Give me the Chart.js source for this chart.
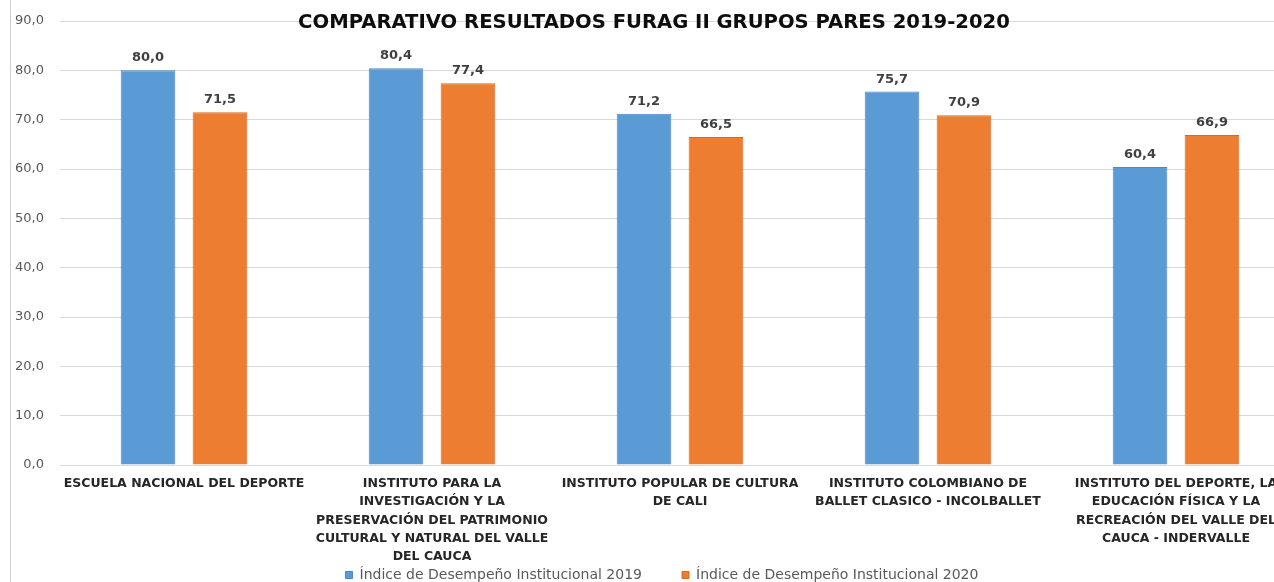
<!DOCTYPE html>
<html>
<head>
<meta charset="utf-8">
<script src="https://cdn.jsdelivr.net/npm/chart.js@4/dist/chart.umd.min.js"></script>
<style>
  body { margin: 0; background: #fff; overflow: hidden; }
  .chart-container { position: relative; width: 1300px; height: 582px; }
  .side-line { position: absolute; left: 10px; top: 0; width: 1px; height: 582px; background: #d0d0d0; }
</style>
</head>
<body>
<div class="chart-container">
  <div class="side-line"></div>
  <canvas id="furag-chart"></canvas>
</div>
<script>
const titleText = 'COMPARATIVO RESULTADOS FURAG II GRUPOS PARES 2019-2020';
const entidades = [
  'ESCUELA NACIONAL DEL DEPORTE',
  ['INSTITUTO PARA LA', 'INVESTIGACIÓN Y LA', 'PRESERVACIÓN DEL PATRIMONIO', 'CULTURAL Y NATURAL DEL VALLE', 'DEL CAUCA'],
  ['INSTITUTO POPULAR DE CULTURA', 'DE CALI'],
  ['INSTITUTO COLOMBIANO DE', 'BALLET CLASICO - INCOLBALLET'],
  ['INSTITUTO DEL DEPORTE, LA', 'EDUCACIÓN FÍSICA Y LA', 'RECREACIÓN DEL VALLE DEL', 'CAUCA - INDERVALLE']
];
const indice2019 = [80.0, 80.4, 71.2, 75.7, 60.4];
const indice2020 = [71.5, 77.4, 66.5, 70.9, 66.9];
const yTicks = [0, 10, 20, 30, 40, 50, 60, 70, 80, 90];

const fmt = v => v.toFixed(1).replace('.', ',');
const FONT = '"DejaVu Sans", sans-serif';
const LEGEND_GAP = 40;

// value labels above every bar
const barValues = {
  id: 'barValues',
  afterDatasetsDraw(chart) {
    const ctx = chart.ctx;
    ctx.save();
    ctx.font = 'bold 13px ' + FONT;
    ctx.fillStyle = '#404040';
    ctx.textAlign = 'center';
    ctx.textBaseline = 'alphabetic';
    chart.data.datasets.forEach((ds, i) => {
      chart.getDatasetMeta(i).data.forEach((bar, j) => {
        ctx.fillText(fmt(ds.data[j]), bar.x, bar.y - 9);
      });
    });
    ctx.restore();
  }
};

// title drawn straight over the top gridline
const overTitle = {
  id: 'overTitle',
  afterDraw(chart) {
    const ctx = chart.ctx;
    ctx.save();
    ctx.font = 'bold 19.6px ' + FONT;
    ctx.fillStyle = '#0d0d0d';
    ctx.textAlign = 'center';
    ctx.textBaseline = 'middle';
    ctx.fillText(titleText, 654, 22.5);
    ctx.restore();
  }
};

// the wide gap between legend items needs a big padding, so pull the box top back up
const legendShift = {
  id: 'legendShift',
  afterLayout(chart) {
    const lg = chart.legend;
    const dy = (lg.top + LEGEND_GAP + 7) - 575;
    lg.top -= dy;
    lg.left += 12;
    lg.right += 12;
  }
};

const ctx = document.getElementById('furag-chart').getContext('2d');
new Chart(ctx, {
  type: 'bar',
  data: {
    labels: entidades,
    datasets: [
      {
        label: 'Índice de Desempeño Institucional 2019',
        data: indice2019,
        backgroundColor: '#5b9bd5',
        borderColor: '#4a88c2',
        borderWidth: 1
      },
      {
        label: 'Índice de Desempeño Institucional 2020',
        data: indice2020,
        backgroundColor: '#ed7d31',
        borderColor: '#d96a20',
        borderWidth: 1
      }
    ]
  },
  options: {
    responsive: true,
    maintainAspectRatio: false,
    animation: false,
    categoryPercentage: 0.58,
    barPercentage: 0.76,
    layout: { autoPadding: false, padding: { top: 21, left: 0, right: 0, bottom: 0 } },
    plugins: {
      title: { display: false },
      tooltip: { enabled: false },
      legend: {
        position: 'bottom',
        maxHeight: 18,
        labels: {
          font: { family: FONT, size: 14 },
          color: '#595959',
          boxWidth: 7,
          boxHeight: 7,
          padding: LEGEND_GAP
        }
      }
    },
    scales: {
      x: {
        afterFit(scale) { scale.height = 99; },
        grid: { display: false },
        border: { display: false },
        ticks: {
          font: { family: FONT, size: 12.5, weight: 'bold', lineHeight: 1.45 },
          color: '#262626',
          maxRotation: 0,
          autoSkip: false,
          padding: 2
        }
      },
      y: {
        min: 0,
        max: 90,
        afterBuildTicks(scale) { scale.ticks = yTicks.map(v => ({ value: v })); },
        afterFit(scale) {
          scale.width = 60;
          scale.paddingTop = 0;
          scale.paddingBottom = 0;
        },
        grid: { color: '#d9d9d9', drawTicks: false },
        border: { display: false },
        ticks: {
          font: { family: FONT, size: 13 },
          color: '#595959',
          padding: 16,
          callback: v => fmt(v)
        }
      }
    }
  },
  plugins: [barValues, overTitle, legendShift]
});
</script>
</body>
</html>
